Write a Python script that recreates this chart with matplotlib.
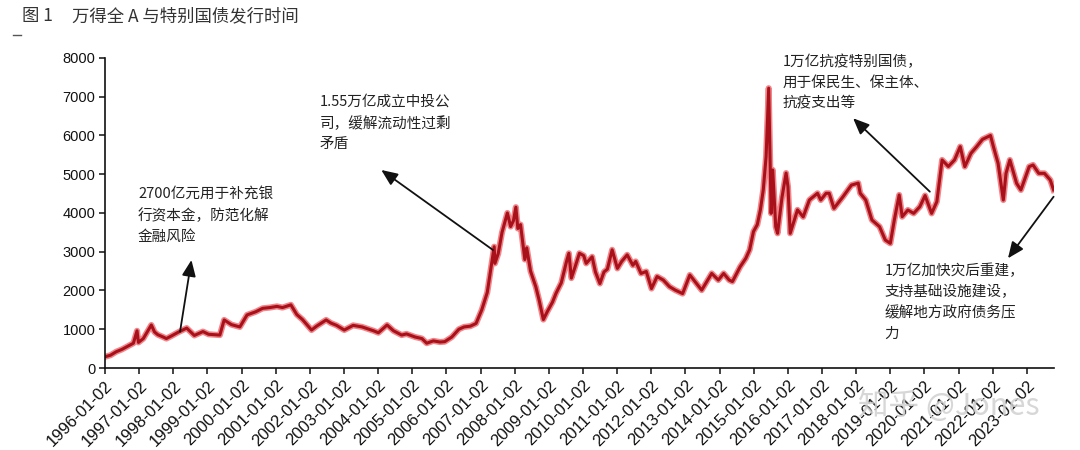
import numpy as np
import pandas as pd
import matplotlib
matplotlib.use("Agg")
import matplotlib.pyplot as plt
from matplotlib.lines import Line2D

plt.rcParams['font.family'] = ['Liberation Sans', 'Noto Sans CJK SC', 'DejaVu Sans']
CJK = ['Noto Sans CJK SC', 'DejaVu Sans']

# Wind All A index
dates = [
    "1996-01-02", "1996-03-01", "1996-05-01", "1996-07-01", "1996-09-01", "1996-11-01",
    "1996-12-10", "1996-12-25", "1997-02-15", "1997-05-12", "1997-06-15", "1997-07-20",
    "1997-09-15", "1997-10-20", "1997-12-15", "1998-03-01", "1998-05-25", "1998-08-15",
    "1998-11-15", "1999-01-15", "1999-05-15", "1999-06-30", "1999-09-15", "1999-12-15",
    "2000-03-01", "2000-06-01", "2000-08-15", "2000-11-01", "2001-01-15", "2001-03-15",
    "2001-06-13", "2001-08-15", "2001-10-15", "2002-01-20", "2002-03-15", "2002-06-25",
    "2002-08-15", "2002-10-15", "2003-01-05", "2003-04-10", "2003-07-15", "2003-11-15",
    "2004-01-05", "2004-04-07", "2004-06-15", "2004-09-10", "2004-11-01", "2005-02-01",
    "2005-04-15", "2005-06-05", "2005-08-15", "2005-10-25", "2005-12-15", "2006-03-01",
    "2006-05-15", "2006-07-10", "2006-09-15", "2006-11-15", "2007-01-15", "2007-03-15",
    "2007-05-28", "2007-06-05", "2007-07-10", "2007-08-20", "2007-10-16", "2007-11-20",
    "2007-12-20", "2008-01-15", "2008-02-05", "2008-03-05", "2008-04-20", "2008-05-10",
    "2008-06-20", "2008-08-15", "2008-09-20", "2008-11-04", "2008-12-15", "2009-02-10",
    "2009-03-20", "2009-05-15", "2009-07-10", "2009-08-04", "2009-08-31", "2009-10-15",
    "2009-11-25", "2010-01-10", "2010-02-05", "2010-04-10", "2010-05-15", "2010-07-02",
    "2010-08-15", "2010-09-20", "2010-11-10", "2011-01-05", "2011-02-20", "2011-04-20",
    "2011-06-20", "2011-07-20", "2011-09-15", "2011-11-10", "2012-01-05", "2012-03-05",
    "2012-05-10", "2012-07-15", "2012-09-15", "2012-12-03", "2013-02-18", "2013-04-15",
    "2013-06-25", "2013-10-10", "2013-12-20", "2014-02-15", "2014-04-15", "2014-05-20",
    "2014-08-10", "2014-10-10", "2014-11-20", "2014-12-31", "2015-02-10", "2015-03-15",
    "2015-04-15", "2015-05-15", "2015-06-12", "2015-06-25", "2015-07-08", "2015-07-25",
    "2015-08-26", "2015-09-15", "2015-11-01", "2015-12-15", "2016-01-04", "2016-01-28",
    "2016-03-10", "2016-04-15", "2016-06-15", "2016-08-20", "2016-11-15", "2016-12-20",
    "2017-02-15", "2017-03-20", "2017-05-10", "2017-08-15", "2017-11-13", "2018-01-25",
    "2018-02-15", "2018-04-15", "2018-06-20", "2018-09-10", "2018-11-10", "2019-01-03",
    "2019-02-15", "2019-04-08", "2019-05-10", "2019-07-10", "2019-09-10", "2019-11-15",
    "2020-01-10", "2020-03-20", "2020-05-15", "2020-07-10", "2020-09-15", "2020-11-20",
    "2021-01-20", "2021-03-10", "2021-05-15", "2021-07-15", "2021-09-15", "2021-12-10",
    "2022-01-10", "2022-03-01", "2022-04-26", "2022-05-25", "2022-07-05", "2022-09-15",
    "2022-10-31", "2023-01-28", "2023-03-10", "2023-05-10", "2023-07-10", "2023-09-10",
    "2023-10-16",
]
values = [
    290, 330, 420, 480, 560, 640,
    960, 660, 760, 1110, 930, 860,
    800, 760, 830, 930, 1030, 840,
    940, 870, 850, 1240, 1120, 1060,
    1370, 1450, 1540, 1560, 1590, 1560,
    1630, 1380, 1250, 980, 1080, 1240,
    1160, 1100, 980, 1100, 1060, 960,
    910, 1110, 960, 850, 880, 800,
    760, 640, 700, 670, 680, 800,
    1000, 1060, 1080, 1150, 1500, 1950,
    3130, 2700, 2950, 3500, 4000, 3650,
    3800, 4150, 3600, 3700, 2800, 3100,
    2500, 2100, 1750, 1250, 1450, 1700,
    1930, 2200, 2750, 2960, 2320, 2650,
    2960, 2900, 2700, 2870, 2480, 2180,
    2480, 2550, 3050, 2570, 2750, 2920,
    2650, 2750, 2440, 2490, 2050, 2360,
    2270, 2100, 2010, 1920, 2400, 2230,
    2010, 2440, 2270, 2440, 2270, 2230,
    2610, 2830, 3050, 3520, 3700, 4080,
    4600, 5450, 7220, 5625, 3990, 5110,
    3646, 3475, 4400, 5030, 4680, 3475,
    3800, 4080, 3900, 4335, 4508, 4335,
    4508, 4508, 4120, 4420, 4720, 4770,
    4508, 4335, 3820, 3646, 3303, 3217,
    3820, 4465, 3904, 4077, 3990, 4162,
    4450, 3990, 4293, 5368, 5200, 5368,
    5712, 5196, 5540, 5712, 5900, 6000,
    5712, 5282, 4335, 5023, 5368, 4766,
    4594, 5196, 5239, 5023, 5023, 4852,
    4594,
]

tick_years = list(range(1996, 2024))
tick_labels = [f"{y}-01-02" for y in tick_years]
yticks = [0, 1000, 2000, 3000, 4000, 5000, 6000, 7000, 8000]

notes = [
    "2700亿元用于补充银\n行资本金，防范化解\n金融风险",
    "1.55万亿成立中投公\n司，缓解流动性过剩\n矛盾",
    "1万亿抗疫特别国债，\n用于保民生、保主体、\n抗疫支出等",
    "1万亿加快灾后重建，\n支持基础设施建设，\n缓解地方政府债务压\n力",
]
note_pos = [("1996-12-20", 4670), ("2002-04-20", 7045), ("2015-11-05", 8077), ("2018-11-01", 2684)]
arrow_head = [("1998-07-15", 2787), ("2004-02-05", 5110), ("2017-12-01", 6444), ("2022-06-15", 2831)]
arrow_tail = [("1998-03-15", 937), ("2007-05-15", 3045), ("2020-03-01", 4550), ("2023-10-16", 4420)]

x = pd.to_datetime(dates)
v = np.array(values)

fig = plt.figure(figsize=(10.8, 4.5), dpi=100)
ax = fig.add_axes([0.0972, 0.1822, 0.8787, 0.689])

ax.plot(x, v, color='#e4232b', lw=4.4, alpha=0.55, solid_joinstyle='round')
ax.plot(x, v, color='#a8101a', lw=2.2, solid_joinstyle='round')

ax.set_xlim(pd.Timestamp("1996-01-02"), pd.Timestamp("2023-10-20"))
ax.set_ylim(0, 8000)
ax.set_yticks(yticks)
ax.set_xticks(pd.to_datetime(tick_labels))
ax.set_xticklabels(tick_labels, rotation=45, ha='right', rotation_mode='anchor')

for s in ['top', 'right']:
    ax.spines[s].set_visible(False)
for s in ['left', 'bottom']:
    ax.spines[s].set_linewidth(1.2)
    ax.spines[s].set_color('#111111')
ax.tick_params(axis='y', length=4, width=1.1, labelsize=10.5, colors='#111111', pad=3)
ax.tick_params(axis='x', length=4, width=1.1, labelsize=12, colors='#111111', pad=3)

for txt, (tx, ty), (hx, hy), (sx, sy) in zip(notes, note_pos, arrow_head, arrow_tail):
    ax.text(pd.Timestamp(tx), ty, txt, family=CJK, fontsize=10.5, color='#222222',
            va='top', ha='left', linespacing=1.6, clip_on=False)
    ax.annotate("", xy=(pd.Timestamp(hx), hy), xytext=(pd.Timestamp(sx), sy),
                arrowprops=dict(arrowstyle='-|>,head_length=0.7,head_width=0.3',
                                color='#111111', lw=1.3, shrinkA=0, shrinkB=0,
                                mutation_scale=14),
                annotation_clip=False)

fig.text(22 / 1080, 1 - 16 / 450, "图 1", family=CJK, fontsize=12.5, color='#333333', va='center')
fig.text(72 / 1080, 1 - 16 / 450, "万得全 A 与特别国债发行时间", family=CJK, fontsize=12.5,
         color='#333333', va='center')
fig.add_artist(Line2D([13 / 1080, 21 / 1080], [1 - 35 / 450, 1 - 35 / 450], color='#555555', lw=1))

fig.text(858 / 1080, 1 - 406 / 450, "知乎 @Jones", family=CJK, fontsize=22, color='#d0d0d0',
         alpha=0.85, va='center', ha='left')

fig.savefig("out.png", dpi=100)
